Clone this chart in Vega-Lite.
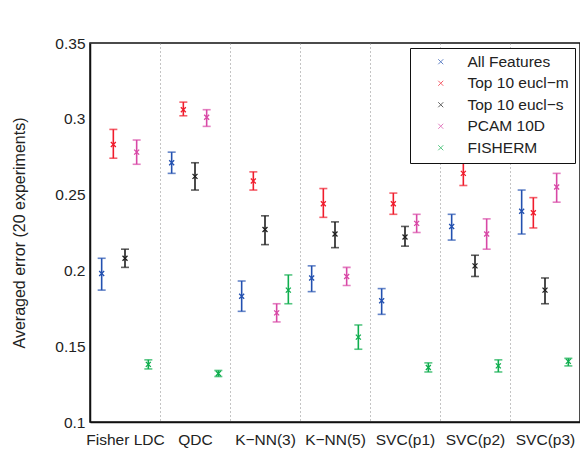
{
  "$schema": "https://vega.github.io/schema/vega-lite/v6.json",
  "width": 490,
  "height": 379,
  "autosize": "none",
  "padding": {"left": 90, "top": 43, "right": 0, "bottom": 34},
  "background": "white",
  "config": {
    "font": "Liberation Sans",
    "view": {"stroke": "#111111", "strokeWidth": 1.5},
    "axis": {"labelFont": "Liberation Sans", "titleFont": "Liberation Sans", "labelColor": "#222222", "titleColor": "#222222", "domainColor": "#111111", "domainWidth": 1.5, "tickColor": "#111111"}
  },
  "data": {
    "values": [
      {"clf": "Fisher LDC", "method": "All Features", "mean": 0.198, "lo": 0.187, "hi": 0.208},
      {"clf": "Fisher LDC", "method": "Top 10 eucl−m", "mean": 0.283, "lo": 0.274, "hi": 0.293},
      {"clf": "Fisher LDC", "method": "Top 10 eucl−s", "mean": 0.208, "lo": 0.202, "hi": 0.214},
      {"clf": "Fisher LDC", "method": "PCAM 10D", "mean": 0.278, "lo": 0.270, "hi": 0.286},
      {"clf": "Fisher LDC", "method": "FISHERM", "mean": 0.138, "lo": 0.135, "hi": 0.141},
      {"clf": "QDC", "method": "All Features", "mean": 0.271, "lo": 0.264, "hi": 0.278},
      {"clf": "QDC", "method": "Top 10 eucl−m", "mean": 0.306, "lo": 0.302, "hi": 0.311},
      {"clf": "QDC", "method": "Top 10 eucl−s", "mean": 0.262, "lo": 0.253, "hi": 0.271},
      {"clf": "QDC", "method": "PCAM 10D", "mean": 0.301, "lo": 0.295, "hi": 0.306},
      {"clf": "QDC", "method": "FISHERM", "mean": 0.132, "lo": 0.130, "hi": 0.134},
      {"clf": "K−NN(3)", "method": "All Features", "mean": 0.183, "lo": 0.173, "hi": 0.193},
      {"clf": "K−NN(3)", "method": "Top 10 eucl−m", "mean": 0.259, "lo": 0.253, "hi": 0.265},
      {"clf": "K−NN(3)", "method": "Top 10 eucl−s", "mean": 0.227, "lo": 0.217, "hi": 0.236},
      {"clf": "K−NN(3)", "method": "PCAM 10D", "mean": 0.172, "lo": 0.166, "hi": 0.178},
      {"clf": "K−NN(3)", "method": "FISHERM", "mean": 0.187, "lo": 0.178, "hi": 0.197},
      {"clf": "K−NN(5)", "method": "All Features", "mean": 0.195, "lo": 0.186, "hi": 0.203},
      {"clf": "K−NN(5)", "method": "Top 10 eucl−m", "mean": 0.244, "lo": 0.235, "hi": 0.254},
      {"clf": "K−NN(5)", "method": "Top 10 eucl−s", "mean": 0.224, "lo": 0.215, "hi": 0.232},
      {"clf": "K−NN(5)", "method": "PCAM 10D", "mean": 0.196, "lo": 0.190, "hi": 0.202},
      {"clf": "K−NN(5)", "method": "FISHERM", "mean": 0.156, "lo": 0.148, "hi": 0.164},
      {"clf": "SVC(p1)", "method": "All Features", "mean": 0.180, "lo": 0.171, "hi": 0.188},
      {"clf": "SVC(p1)", "method": "Top 10 eucl−m", "mean": 0.244, "lo": 0.237, "hi": 0.251},
      {"clf": "SVC(p1)", "method": "Top 10 eucl−s", "mean": 0.222, "lo": 0.216, "hi": 0.229},
      {"clf": "SVC(p1)", "method": "PCAM 10D", "mean": 0.231, "lo": 0.225, "hi": 0.237},
      {"clf": "SVC(p1)", "method": "FISHERM", "mean": 0.136, "lo": 0.133, "hi": 0.139},
      {"clf": "SVC(p2)", "method": "All Features", "mean": 0.229, "lo": 0.220, "hi": 0.237},
      {"clf": "SVC(p2)", "method": "Top 10 eucl−m", "mean": 0.264, "lo": 0.256, "hi": 0.271},
      {"clf": "SVC(p2)", "method": "Top 10 eucl−s", "mean": 0.203, "lo": 0.196, "hi": 0.210},
      {"clf": "SVC(p2)", "method": "PCAM 10D", "mean": 0.224, "lo": 0.214, "hi": 0.234},
      {"clf": "SVC(p2)", "method": "FISHERM", "mean": 0.137, "lo": 0.133, "hi": 0.141},
      {"clf": "SVC(p3)", "method": "All Features", "mean": 0.239, "lo": 0.224, "hi": 0.253},
      {"clf": "SVC(p3)", "method": "Top 10 eucl−m", "mean": 0.238, "lo": 0.228, "hi": 0.248},
      {"clf": "SVC(p3)", "method": "Top 10 eucl−s", "mean": 0.187, "lo": 0.178, "hi": 0.195},
      {"clf": "SVC(p3)", "method": "PCAM 10D", "mean": 0.255, "lo": 0.245, "hi": 0.264},
      {"clf": "SVC(p3)", "method": "FISHERM", "mean": 0.140, "lo": 0.137, "hi": 0.142}
    ]
  },
  "encoding": {
    "x": {
      "field": "clf", "type": "nominal",
      "sort": ["Fisher LDC", "QDC", "K−NN(3)", "K−NN(5)", "SVC(p1)", "SVC(p2)", "SVC(p3)"],
      "scale": {"paddingInner": 0, "paddingOuter": 0},
      "axis": {"title": null, "labelAngle": 0, "labelFontSize": 15.5, "labelPadding": 10, "ticks": false, "tickBand": "extent", "grid": true, "gridDash": [1, 3], "gridColor": "#888888", "gridWidth": 1, "domain": true}
    },
    "xOffset": {
      "field": "method", "type": "nominal",
      "sort": ["All Features", "Top 10 eucl−m", "Top 10 eucl−s", "PCAM 10D", "FISHERM"],
      "scale": {"paddingInner": 0, "paddingOuter": 0.5}
    },
    "color": {
      "field": "method", "type": "nominal",
      "sort": ["All Features", "Top 10 eucl−m", "Top 10 eucl−s", "PCAM 10D", "FISHERM"],
      "scale": {"domain": ["All Features", "Top 10 eucl−m", "Top 10 eucl−s", "PCAM 10D", "FISHERM"], "range": ["#2351b0", "#f01c2c", "#1e1e1e", "#d848a6", "#0fae4e"]},
      "legend": {
        "title": null, "orient": "top-right", "offset": 5,
        "labelFontSize": 15.5, "labelFont": "Liberation Sans", "labelColor": "#222222",
        "symbolType": "M-1,-1L1,1M-1,1L1,-1", "symbolSize": 25, "symbolStrokeWidth": 1,
        "symbolOffset": 17, "labelOffset": 19, "rowPadding": 4.5, "padding": 6,
        "strokeColor": "#111111", "fillColor": "white"
      }
    }
  },
  "layer": [
    {
      "mark": {"type": "rule", "strokeWidth": 1.6},
      "encoding": {
        "y": {"field": "lo", "type": "quantitative", "scale": {"domain": [0.1, 0.35], "nice": false, "zero": false},
          "axis": {"title": "Averaged error (20 experiments)", "titleFontSize": 16, "titleFontWeight": "normal", "titlePadding": 27, "labelFontSize": 15.5, "labelPadding": 5, "ticks": false, "grid": false, "values": [0.1, 0.15, 0.2, 0.25, 0.3, 0.35], "format": ".2~f"}},
        "y2": {"field": "hi"}
      }
    },
    {
      "mark": {"type": "tick", "orient": "horizontal", "size": 8, "thickness": 1.6},
      "encoding": {"y": {"field": "lo", "type": "quantitative"}}
    },
    {
      "mark": {"type": "tick", "orient": "horizontal", "size": 8, "thickness": 1.6},
      "encoding": {"y": {"field": "hi", "type": "quantitative"}}
    },
    {
      "mark": {"type": "point", "shape": "M-1,-1L1,1M-1,1L1,-1", "size": 25, "filled": false, "strokeWidth": 1.3, "opacity": 1},
      "encoding": {"y": {"field": "mean", "type": "quantitative"}}
    }
  ]
}
